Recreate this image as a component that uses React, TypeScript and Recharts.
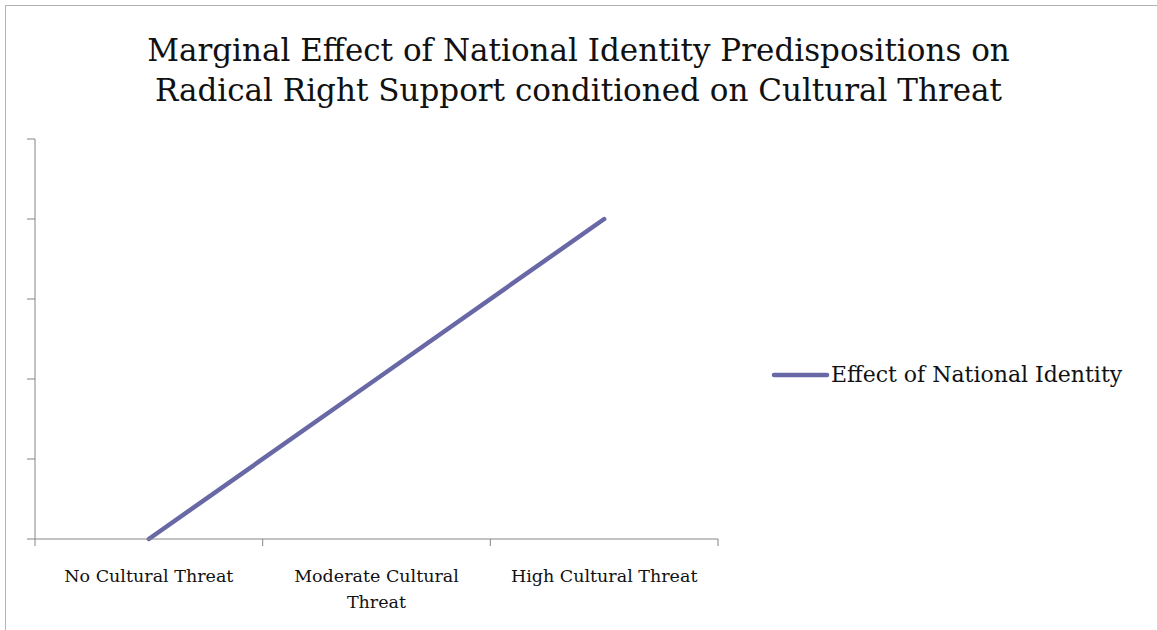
import React from "react";
import { LineChart, Line, XAxis, YAxis, Legend, Text } from "recharts";

const titleLines = [
  "Marginal Effect of National Identity Predispositions on",
  "Radical Right Support conditioned on Cultural Threat"
];
const categories = ["No Cultural Threat", "Moderate Cultural Threat", "High Cultural Threat"];
const effectValues = [0, 2, 4];
const seriesName = "Effect of National Identity";
const yTicks = [0, 1, 2, 3, 4, 5];
// tick marks sit between categories, labels at the middle of each band
const xTicks = [0, 0.5, 1, 1.5, 2, 2.5, 3];

const FONT = "'DejaVu Serif', serif";
const LINE_COLOR = "#6868a6";
const AXIS_COLOR = "#868686";

const data = categories.map((c, i) => ({ category: c, pos: i + 0.5, effect: effectValues[i] }));

const NoLabel = () => <g />;

function CategoryTick(props: any) {
  const { x, y, payload } = props;
  const v = payload.value as number;
  if (Number.isInteger(v)) {
    return <line x1={x} y1={y} x2={x} y2={y + 7} stroke={AXIS_COLOR} strokeWidth={1} />;
  }
  const label = categories[Math.floor(v)];
  return (
    <Text
      x={x}
      y={y + 31}
      width={205}
      textAnchor="middle"
      verticalAnchor="start"
      fontSize={17.5}
      fontFamily={FONT}
      style={{ fontSize: 17.5, fontFamily: FONT }}
      fill="#111"
      lineHeight={26}
    >
      {label}
    </Text>
  );
}

function LegendContent(props: any) {
  const item = props.payload && props.payload[0];
  if (!item) return null;
  return (
    <div style={{ display: "flex", alignItems: "center", fontFamily: FONT, fontSize: 22, color: "#111" }}>
      <svg width={59} height={10} style={{ marginRight: 1 }}>
        <line x1={3} y1={5} x2={56} y2={5} stroke={item.color} strokeWidth={4.5} strokeLinecap="round" />
      </svg>
      <span>{item.value}</span>
    </div>
  );
}

export default function App() {
  return (
    <div style={{ position: "absolute", left: 0, top: 0, width: 1157, height: 630, background: "#fff", overflow: "hidden" }}>
      <div
        style={{
          position: "absolute",
          left: 5,
          top: 5,
          width: 1200,
          height: 700,
          borderLeft: "1px solid #b3b3b3",
          borderTop: "1px solid #b3b3b3"
        }}
      />
      <div
        style={{
          position: "absolute",
          left: 0,
          top: 30,
          width: 1157,
          textAlign: "center",
          fontFamily: FONT,
          fontSize: 31,
          lineHeight: "40px",
          color: "#111"
        }}
      >
        {titleLines.map((t) => (
          <div key={t}>{t}</div>
        ))}
      </div>
      <div style={{ position: "absolute", left: 0, top: 0 }}>
        <LineChart width={1157} height={630} data={data} margin={{ top: 139, right: 439, bottom: 0, left: 0 }}>
          <XAxis
            type="number"
            dataKey="pos"
            domain={[0, 3]}
            ticks={xTicks}
            interval={0}
            tickLine={false}
            tickSize={0}
            tickMargin={0}
            tick={<CategoryTick />}
            height={91}
            stroke={AXIS_COLOR}
          />
          <YAxis
            type="number"
            domain={[0, 5]}
            ticks={yTicks}
            tick={<NoLabel />}
            tickSize={8}
            width={35}
            stroke={AXIS_COLOR}
          />
          <Legend
            layout="horizontal"
            align="center"
            verticalAlign="middle"
            wrapperStyle={{ left: 771, top: 362, width: "auto" }}
            content={<LegendContent />}
          />
          <Line
            type="linear"
            dataKey="effect"
            name={seriesName}
            stroke={LINE_COLOR}
            strokeWidth={4.5}
            strokeLinecap="round"
            dot={false}
            activeDot={false}
            isAnimationActive={false}
          />
        </LineChart>
      </div>
    </div>
  );
}
